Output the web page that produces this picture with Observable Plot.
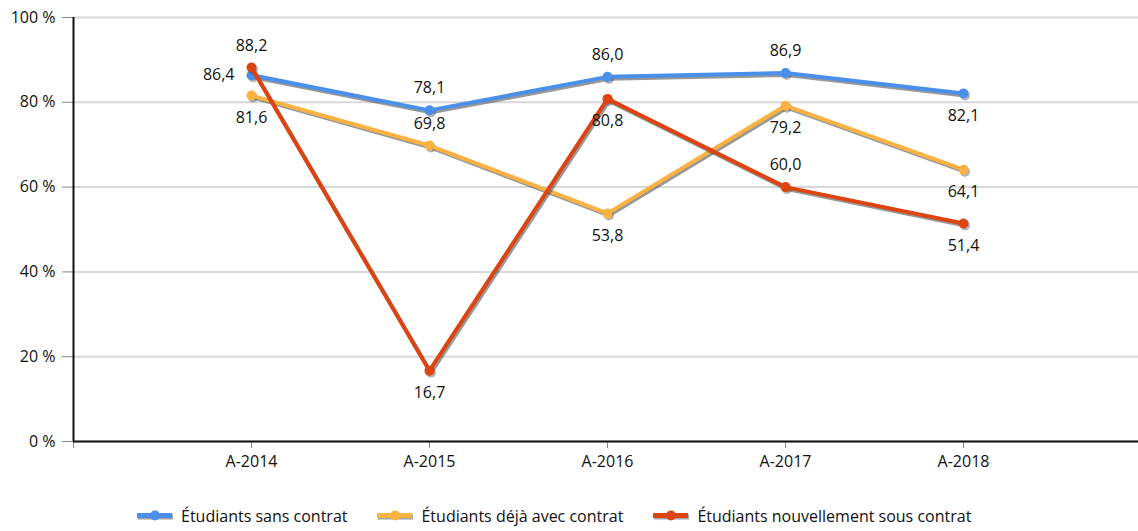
<!DOCTYPE html>
<html>
<head>
<meta charset="utf-8">
<script src="https://cdn.jsdelivr.net/npm/d3@7"></script>
<script src="https://cdn.jsdelivr.net/npm/@observablehq/plot@0.6"></script>
<style>
  html, body { margin: 0; padding: 0; background: #fff; }
  body { width: 1138px; height: 531px; overflow: hidden; font-family: "Open Sans", sans-serif; }
  #legend { display: flex; justify-content: flex-start; margin-left: 137px; margin-top: 17px; font-size: 16px; color: #111; }
  .item { display: flex; align-items: center; margin-right: 30px; }
  .item svg { margin-right: 7px; }
</style>
</head>
<body>
<div id="chart"></div>
<div id="legend"></div>
<script>
// ---- data ----
const years = [2014, 2015, 2016, 2017, 2018];
const yearLabels = ["A-2014", "A-2015", "A-2016", "A-2017", "A-2018"];
const seriesNames = ["Étudiants sans contrat", "Étudiants déjà avec contrat", "Étudiants nouvellement sous contrat"];
const sansContrat = [86.4, 78.1, 86.0, 86.9, 82.1];
const dejaAvecContrat = [81.6, 69.8, 53.8, 79.2, 64.1];
const nouvellementSousContrat = [88.2, 16.7, 80.8, 60.0, 51.4];
const yTicks = [0, 20, 40, 60, 80, 100];

// ---- styling (kept apart from the data) ----
const colors = ["#4a8fea", "#fab242", "#dc4411"];
const labelPlacement = [
  ["left", "above", "above", "above", "below"],
  ["below", "above", "below", "below", "below"],
  ["above", "below", "below", "above", "below"]
];

const seriesValues = [sansContrat, dejaAvecContrat, nouvellementSousContrat];
const rows = [];
seriesValues.forEach((vals, s) => {
  vals.forEach((v, i) => rows.push({series: seriesNames[s], s, year: years[i], value: v, place: labelPlacement[s][i]}));
});
const fmt = v => v.toFixed(1).replace(".", ",");
const yearLabel = new Map(years.map((y, i) => [y, yearLabels[i]]));

const marks = [
  Plot.gridY(yTicks, {stroke: "#d8d8d8", strokeOpacity: 1, strokeWidth: 2}),
  Plot.axisY(yTicks, {tickFormat: d => d + " %", tickSize: 11, tickPadding: 7, stroke: "#888", fontSize: 16, fill: "#111", label: null}),
  Plot.axisX([2013, ...years], {tickFormat: d => yearLabel.get(d) || "", tickSize: 7, tickPadding: 7, stroke: "#888", fontSize: 16, fill: "#111", label: null}),
  Plot.ruleY([0], {stroke: "#111", strokeWidth: 2}),
  Plot.ruleX([2013], {stroke: "#111", strokeWidth: 2})
];
seriesNames.forEach((name, s) => {
  const d = rows.filter(r => r.s === s);
  marks.push(
    Plot.line(d, {x: "year", y: "value", stroke: "#444", strokeOpacity: 0.55, strokeWidth: 4, dx: 1.5, dy: 2}),
    Plot.dot(d, {x: "year", y: "value", fill: "#444", fillOpacity: 0.4, r: 5, dx: 1.5, dy: 2}),
    Plot.line(d, {x: "year", y: "value", stroke: colors[s], strokeWidth: 4}),
    Plot.dot(d, {x: "year", y: "value", fill: colors[s], r: 5})
  );
});
const textOpts = {x: "year", y: "value", text: d => fmt(d.value), fill: "#111", fontSize: 16};
marks.push(
  Plot.text(rows.filter(r => r.place === "above"), {...textOpts, dy: -22}),
  Plot.text(rows.filter(r => r.place === "below"), {...textOpts, dy: 22}),
  Plot.text(rows.filter(r => r.place === "left"), {...textOpts, dx: -17, textAnchor: "end"})
);

const chart = Plot.plot({
  width: 1138,
  height: 488,
  marginLeft: 73,
  marginRight: 0,
  marginTop: 17,
  marginBottom: 47,
  style: {fontFamily: "'Open Sans', sans-serif", background: "#fff", color: "#111"},
  x: {domain: [2013, 2019], range: [73, 1141]},
  y: {domain: [0, 100], range: [441, 17]},
  marks
});
document.getElementById("chart").appendChild(chart);

// legend
const legend = document.getElementById("legend");
seriesNames.forEach((name, s) => {
  const item = document.createElement("div");
  item.className = "item";
  item.innerHTML = `<svg width="37" height="12">
    <line x1="1" y1="7" x2="36" y2="7" stroke="#444" stroke-opacity="0.5" stroke-width="5"/>
    <line x1="0" y1="5.5" x2="35" y2="5.5" stroke="${colors[s]}" stroke-width="5"/>
    <circle cx="18" cy="5.5" r="5" fill="${colors[s]}"/>
  </svg><span>${name}</span>`;
  legend.appendChild(item);
});
</script>
</body>
</html>
